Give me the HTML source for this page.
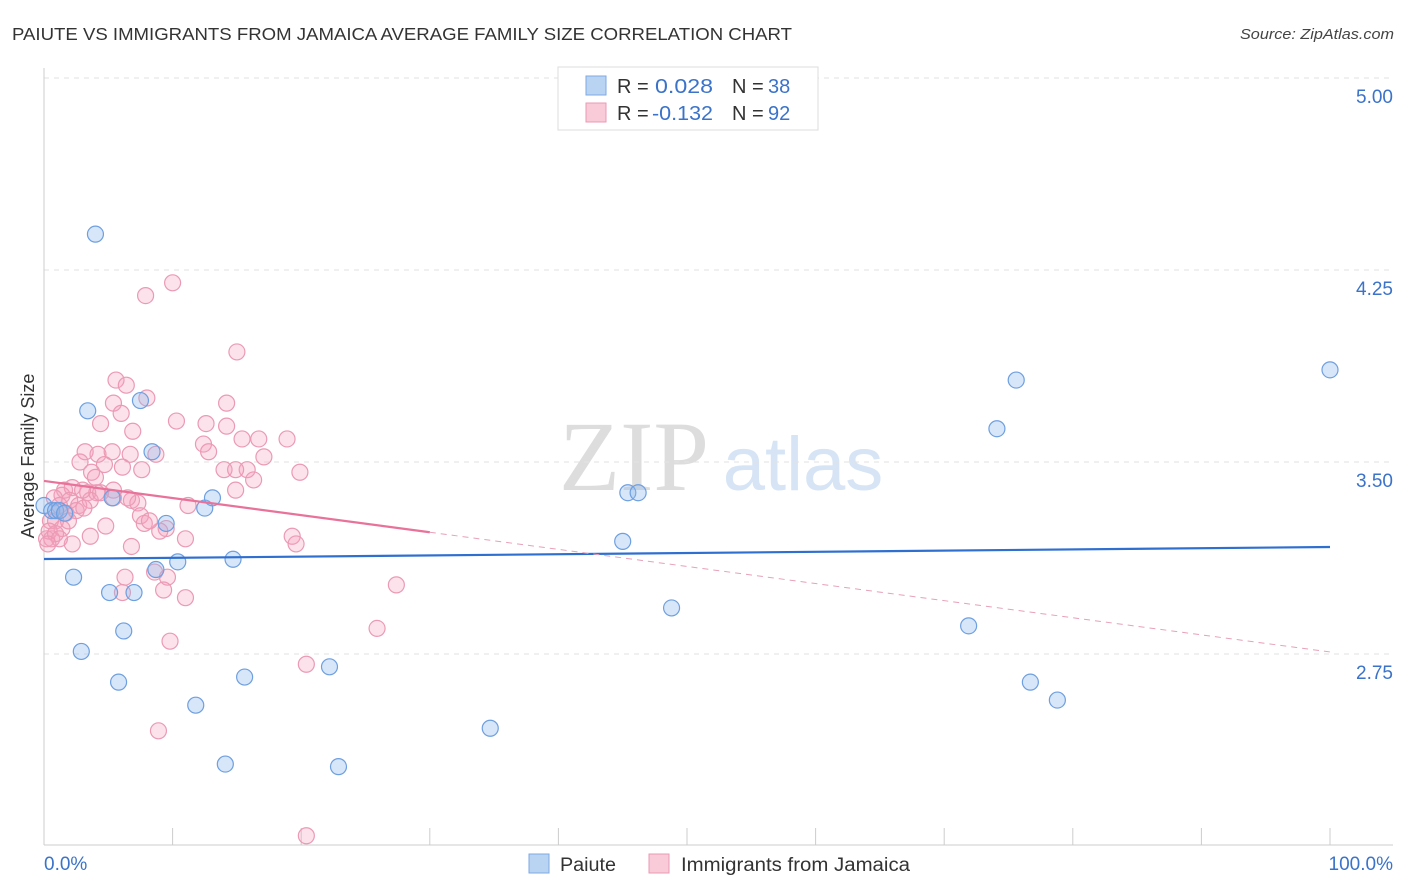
<!DOCTYPE html>
<html><head><meta charset="utf-8"><style>
body{margin:0;background:#fff;font-family:"Liberation Sans",sans-serif;}
svg{display:block}
</style></head><body>
<svg id="chart" width="1406" height="892" xmlns="http://www.w3.org/2000/svg">
<text x="12" y="40" font-size="17.5" fill="#333" textLength="780" lengthAdjust="spacingAndGlyphs">PAIUTE VS IMMIGRANTS FROM JAMAICA AVERAGE FAMILY SIZE CORRELATION CHART</text>
<text x="1240" y="39" font-size="15" fill="#444" font-style="italic" textLength="154" lengthAdjust="spacingAndGlyphs">Source: ZipAtlas.com</text>
<g>
<text x="634" y="490" font-size="100" fill="#ddd" font-family="Liberation Serif,serif" text-anchor="middle">ZIP</text>
<text x="803" y="490" font-size="76" fill="#d6e4f5" text-anchor="middle">atlas</text>
</g>
<g id="grid"></g>
<g id="axes"></g>
<g id="marks"></g>
<g>
<rect x="558" y="67" width="260" height="63" fill="#fff" stroke="#ddd"/>
<rect x="586" y="76" width="20" height="19" fill="#b9d3f3" stroke="#7ea9e2"/>
<rect x="586" y="103" width="20" height="19" fill="#f9cad8" stroke="#eb9ab4"/>
<text x="617" y="93" font-size="20" fill="#333">R = </text><text x="655" y="93" font-size="20" fill="#3a73c9" textLength="58" lengthAdjust="spacingAndGlyphs">0.028</text>
<text x="732" y="93" font-size="20" fill="#333">N = </text><text x="768" y="93" font-size="20" fill="#3a73c9">38</text>
<text x="617" y="120" font-size="20" fill="#333">R = </text><text x="652" y="120" font-size="20" fill="#3a73c9" textLength="61" lengthAdjust="spacingAndGlyphs">-0.132</text>
<text x="732" y="120" font-size="20" fill="#333">N = </text><text x="768" y="120" font-size="20" fill="#3a73c9">92</text>
</g>
<g>
<rect x="529" y="854" width="20" height="19" fill="#b9d3f3" stroke="#7ea9e2"/>
<text x="560" y="871" font-size="19" fill="#333" textLength="56" lengthAdjust="spacingAndGlyphs">Paiute</text>
<rect x="649" y="854" width="20" height="19" fill="#f9cad8" stroke="#eb9ab4"/>
<text x="681" y="871" font-size="19" fill="#333" textLength="229" lengthAdjust="spacingAndGlyphs">Immigrants from Jamaica</text>
</g>
<text transform="translate(34,456) rotate(-90)" font-size="18" fill="#333" text-anchor="middle">Average Family Size</text>
</svg>
<script>
const yTicks=[5.00,4.25,3.50,2.75];
const yTickLabels=["5.00","4.25","3.50","2.75"];
const xTickLabels=["0.0%","100.0%"];
const paiuteX=[0,0.6,0.9,1.2,1.6,4.0,3.4,2.3,2.9,5.1,5.3,5.8,6.2,7.0,7.5,8.4,8.7,9.5,10.4,11.8,12.5,13.1,14.1,14.7,15.6,22.2,22.9,34.7,45.0,45.4,46.2,48.8,71.9,74.1,75.6,76.7,78.8,100];
const paiuteY=[3.33,3.31,3.31,3.31,3.30,4.39,3.70,3.05,2.76,2.99,3.36,2.64,2.84,2.99,3.74,3.54,3.08,3.26,3.11,2.55,3.32,3.36,2.32,3.12,2.66,2.70,2.31,2.46,3.19,3.38,3.38,2.93,2.86,3.63,3.82,2.64,2.57,3.86];
const jamX=[7.9,10.0,15.0,5.6,6.4,8.0,5.4,14.2,6.0,4.4,6.9,10.3,12.6,14.2,16.7,18.9,15.4,12.4,12.8,3.2,4.2,5.3,6.7,8.7,2.8,4.7,6.1,7.6,14.0,15.8,17.1,19.9,16.3,3.7,14.9,1.6,2.2,3.4,4.1,5.4,6.8,7.3,11.2,1.4,2.0,2.7,3.6,0.8,1.2,1.7,2.5,0.5,0.9,1.4,0.2,0.6,0.4,2.2,3.6,4.8,7.5,7.8,9.5,11.0,19.3,19.6,6.8,6.3,8.6,9.6,6.1,9.3,11.0,27.4,25.9,9.8,20.4,8.9,20.4,0.9,1.2,4.4,3.1,5.4,6.5,14.9,9.0,1.9,3.0,0.3,4.0,8.2];
const jamY=[4.15,4.20,3.93,3.82,3.80,3.75,3.73,3.73,3.69,3.65,3.62,3.66,3.65,3.64,3.59,3.59,3.59,3.57,3.54,3.54,3.53,3.54,3.53,3.53,3.50,3.49,3.48,3.47,3.47,3.47,3.52,3.46,3.43,3.46,3.39,3.39,3.40,3.38,3.38,3.39,3.35,3.34,3.33,3.37,3.35,3.33,3.35,3.36,3.33,3.30,3.31,3.27,3.27,3.24,3.20,3.20,3.23,3.18,3.21,3.25,3.29,3.26,3.24,3.20,3.21,3.18,3.17,3.05,3.07,3.05,2.99,3.00,2.97,3.02,2.85,2.80,2.71,2.45,2.04,3.22,3.20,3.38,3.32,3.36,3.36,3.47,3.23,3.27,3.39,3.18,3.44,3.27];
const paiuteTrend=[3.121,3.168];
const jamTrend=[3.426,2.758];
const jamSolidEnd=30;
const NS="http://www.w3.org/2000/svg";
const X=p=>44+p*12.86;
const Y=v=>462-(v-3.5)*256;
function mk(tag,attrs,parent){const e=document.createElementNS(NS,tag);for(const k in attrs)e.setAttribute(k,attrs[k]);parent.appendChild(e);return e;}
const grid=document.getElementById('grid'),axes=document.getElementById('axes'),marks=document.getElementById('marks');
yTicks.forEach((t,i)=>{
 const l=mk('line',{x1:44,x2:1393,y1:Y(t),y2:Y(t),stroke:'#e2e2e2','stroke-dasharray':'5,5'},grid);
 
 
 const tx=mk('text',{x:1393,y:Y(t)+25,'font-size':19,fill:'#3a73c9','text-anchor':'end'},axes);
 tx.textContent=yTickLabels[i];
 
 
});
const ax=mk('line',{x1:44,x2:44,y1:68,y2:845,stroke:'#ccc'},axes);


const bx=mk('line',{x1:44,x2:1393,y1:845,y2:845,stroke:'#ccc'},axes);


for(let i=0;i<=10;i++){
 const t=mk('line',{x1:X(i*10),x2:X(i*10),y1:828,y2:845,stroke:'#ccc'},axes);
 
 
}
[[X(0),'start',0],[1393,'end',1]].forEach(([x,a,i])=>{
 const t=mk('text',{x:x,y:870,'font-size':19,fill:'#3a73c9','text-anchor':a},axes);
 t.textContent=xTickLabels[i];
 
 
});
jamX.forEach((x,i)=>{
 const c=mk('circle',{cx:X(x),cy:Y(jamY[i]),r:8,fill:'rgba(244,160,188,0.3)',stroke:'#eb9ab4','stroke-width':1.2},marks);
 
 
});
paiuteX.forEach((x,i)=>{
 const c=mk('circle',{cx:X(x),cy:Y(paiuteY[i]),r:8,fill:'rgba(140,182,236,0.35)',stroke:'#6e9fe0','stroke-width':1.2},marks);
 
 
});
const pl=mk('line',{x1:X(0),y1:Y(paiuteTrend[0]),x2:X(100),y2:Y(paiuteTrend[1]),stroke:'#2f6fd0','stroke-width':2.2},marks);


const jm=v=>jamTrend[0]+(jamTrend[1]-jamTrend[0])*v/100;
const js=mk('line',{x1:X(0),y1:Y(jm(0)),x2:X(jamSolidEnd),y2:Y(jm(jamSolidEnd)),stroke:'#e8729a','stroke-width':2.2},marks);


const jd=mk('line',{x1:X(jamSolidEnd),y1:Y(jm(jamSolidEnd)),x2:X(100),y2:Y(jm(100)),stroke:'#e8a0b8','stroke-width':1,'stroke-dasharray':'6,5'},marks);


</script>
</body></html>
